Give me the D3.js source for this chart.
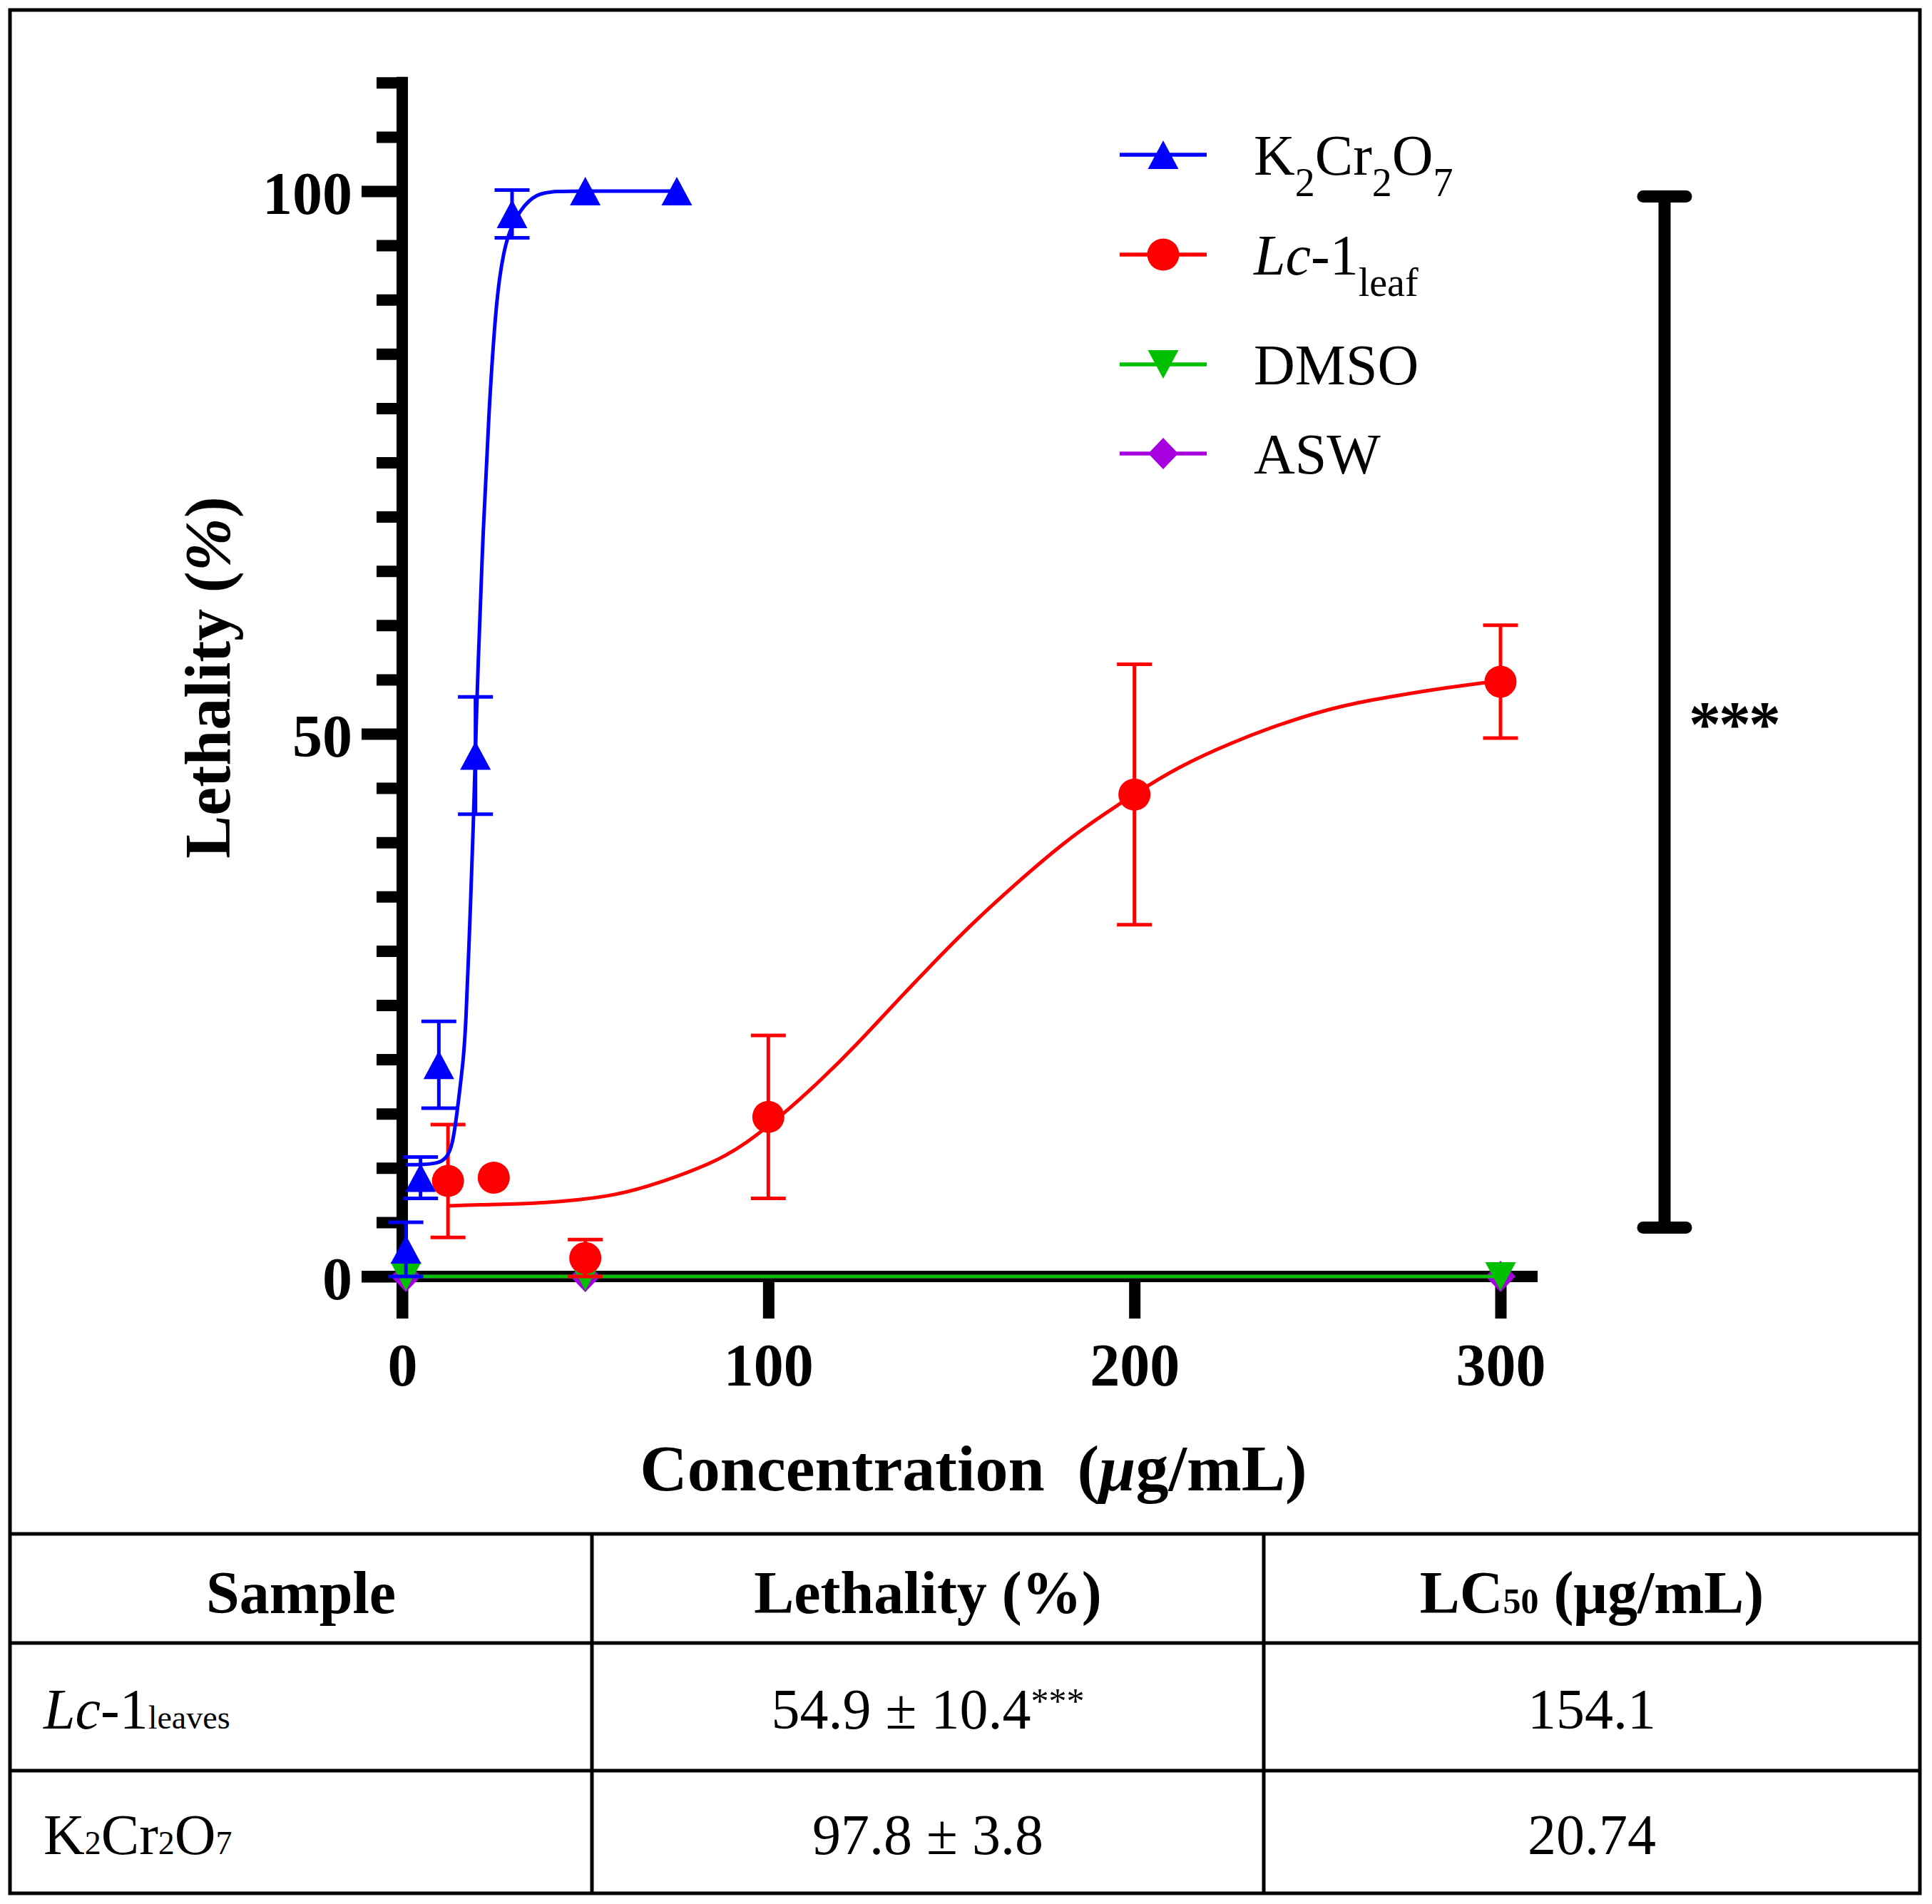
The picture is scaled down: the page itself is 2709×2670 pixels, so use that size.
<!DOCTYPE html>
<html>
<head>
<meta charset="utf-8">
<script src="https://cdn.jsdelivr.net/npm/d3@7"></script>
<style>
  body { margin: 0; background: #fff; }
  svg text { font-family: "Liberation Serif", "DejaVu Serif", serif; fill: #000; }
</style>
</head>
<body>
<svg id="chart" width="2709" height="2670"></svg>
<script>
// ---- data ----
const kX = [1, 5, 10, 20, 30, 50, 75]
const kY = [2.5, 9.1, 19.5, 48.0, 97.9, 100, 100]
const kErr = [2.5, 1.9, 4.0, 5.4, 2.2, 0, 0]

const lcX = [12.5, 25, 50, 100, 200, 300]
const lcY = [8.8, 9.1, 1.7, 14.7, 44.4, 54.8]
const lcErr = [5.2, 0, 1.7, 7.5, 12.0, 5.2]

const dmsoX = [1, 50, 300]
const dmsoY = [0, 0, 0]
const aswX = [1, 50, 300]
const aswY = [0, 0, 0]

// fitted curves
const kFitX = [1, 5, 9.8, 12.1, 13.7, 15.0, 16.6, 17.3, 18.8, 19.5, 20.2, 20.6, 22.1, 23.8, 24.9, 25.7, 26.6, 27.7, 29.1, 32.2, 36.6, 42.2, 50, 75]
const kFitY = [10.3, 10.3, 10.4, 10.9, 12.0, 15.1, 19.7, 22.3, 35.5, 42.5, 50.8, 55.2, 69.0, 80.4, 86.0, 89.4, 92.1, 94.3, 96.2, 98.3, 99.8, 100, 100, 100]
const lcFitX = [12.5, 20.2, 36.4, 49.4, 55.9, 65.0, 84.9, 93.8, 104.3, 114.7, 123.7, 134.1, 144.5, 155.0, 166.9, 181.8, 192.2, 199.8, 211.6, 226.5, 241.4, 256.3, 271.2, 286.1, 300]
const lcFitY = [6.5, 6.6, 6.7, 7.1, 7.4, 8.0, 10.4, 12.2, 15.0, 18.2, 21.2, 25.0, 28.7, 32.3, 36.0, 40.3, 42.7, 44.4, 46.9, 49.2, 51.1, 52.6, 53.5, 54.3, 54.9]

// significance bracket (y values) and label
const bracketY = [4.5, 99.5]
const bracketLabel = "***"

// axes
const xTicks = [0, 100, 200, 300]
const yMajorTicks = [0, 50, 100]
const yMinorTicks = [5, 10, 15, 20, 25, 30, 35, 40, 45, 55, 60, 65, 70, 75, 80, 85, 90, 95, 105, 110]

// legend labels (rich text parts)
const legendLabels = [
  [{ t: "K" }, { t: "2", sub: true }, { t: "Cr" }, { t: "2", sub: true }, { t: "O" }, { t: "7", sub: true }],
  [{ t: "Lc", italic: true }, { t: "-1" }, { t: "leaf", sub: true }],
  [{ t: "DMSO" }],
  [{ t: "ASW" }]
]

// table
const tableHeader = [
  [{ t: "Sample" }],
  [{ t: "Lethality (%)" }],
  [{ t: "LC" }, { t: "50", small: true }, { t: " (μg/mL)" }]
]
const tableSamples = [
  [{ t: "Lc", italic: true }, { t: "-1" }, { t: "leaves", small: true }],
  [{ t: "K" }, { t: "2", small: true }, { t: "Cr" }, { t: "2", small: true }, { t: "O" }, { t: "7", small: true }]
]
const tableLethality = [
  [{ t: "54.9 ± 10.4" }, { t: "***", sup: true }],
  [{ t: "97.8 ± 3.8" }]
]
const tableLC50 = ["154.1", "20.74"]

// ---- drawing ----
const svg = d3.select("#chart")
svg.append("rect").attr("width", 2709).attr("height", 2670).attr("fill", "#fff")

const x = d3.scaleLinear().domain([0, 300]).range([564, 2104])
const y = d3.scaleLinear().domain([0, 100]).range([1790, 268])

const BLUE = "#0000ff", RED = "#ff0000", GREEN = "#00c000", PURPLE = "#a600de"

function rich(sel, parts, opt) {
  let shift = 0
  parts.forEach(p => {
    const ts = sel.append("tspan").text(p.t)
    let target = 0
    if (p.sub) { target = opt.subShift; ts.attr("font-size", opt.subSize) }
    if (p.small) ts.attr("font-size", opt.smallSize)
    if (p.sup) { target = opt.supShift; ts.attr("font-size", opt.supSize) }
    if (target !== shift) { ts.attr("dy", target - shift); shift = target }
    if (p.italic) ts.attr("font-style", "italic")
  })
}

// frame and table grid
const frame = svg.append("g").attr("fill", "none").attr("stroke", "#000").attr("stroke-width", 5)
frame.append("rect").attr("x", 14).attr("y", 14).attr("width", 2678).attr("height", 2641)
const rowLines = [2151, 2304, 2483]
rowLines.forEach(v => frame.append("line").attr("x1", 14).attr("x2", 2692).attr("y1", v).attr("y2", v))
const colLines = [830, 1772]
colLines.forEach(v => frame.append("line").attr("x1", v).attr("x2", v).attr("y1", 2151).attr("y2", 2655))

// y axis
const yAxisG = svg.append("g").attr("transform", "translate(564,0)")
yAxisG.append("line").attr("x1", 0).attr("x2", 0).attr("y1", y(110) - 8).attr("y2", 1849)
  .attr("stroke", "#000").attr("stroke-width", 16)
yAxisG.append("g").call(d3.axisLeft(y).tickValues(yMinorTicks).tickSize(36).tickFormat(""))
  .call(g => g.select(".domain").remove())
  .call(g => g.selectAll("line").attr("stroke-width", 16))
yAxisG.append("g").call(d3.axisLeft(y).tickValues(yMajorTicks).tickSize(57).tickPadding(13))
  .call(g => g.select(".domain").remove())
  .call(g => g.selectAll("line").attr("stroke-width", 16))
  .call(g => g.selectAll("text").attr("dy", "0.37em")
    .style("font-family", '"Liberation Serif", serif').attr("font-size", 84).attr("font-weight", "bold"))

// x axis
const xAxisG = svg.append("g").attr("transform", "translate(0,1790)")
xAxisG.append("line").attr("x1", 507).attr("x2", 2156).attr("y1", 0).attr("y2", 0)
  .attr("stroke", "#000").attr("stroke-width", 16)
xAxisG.append("g").call(d3.axisBottom(x).tickValues(xTicks).tickSize(59))
  .call(g => g.select(".domain").remove())
  .call(g => g.selectAll("line").attr("stroke-width", 16))
  .call(g => g.selectAll("text").attr("y", 153).attr("dy", 0)
    .style("font-family", '"Liberation Serif", serif').attr("font-size", 84).attr("font-weight", "bold"))

// axis titles
const yTitle = svg.append("text").attr("transform", "translate(322,950) rotate(-90)")
  .attr("text-anchor", "middle").attr("font-size", 90).attr("font-weight", "bold")
rich(yTitle, [{ t: "Lethality (" }, { t: "%", italic: true }, { t: ")" }], {})
const xTitle = svg.append("text").attr("x", 1365).attr("y", 2090)
  .attr("text-anchor", "middle").attr("font-size", 92).attr("font-weight", "bold")
  .style("white-space", "pre")
rich(xTitle, [{ t: "Concentration  (" }, { t: "μ", italic: true }, { t: "g/mL)" }], {})

// markers
const markerPath = {
  up: "M0,-20L21.5,20L-21.5,20Z",
  down: "M0,20L21.5,-20L-21.5,-20Z",
  diamond: "M0,-22L21,0L0,22L-21,0Z"
}
function drawMarker(g, kind, color, px, py) {
  if (kind === "circle") g.append("circle").attr("cx", px).attr("cy", py).attr("r", 22.5).attr("fill", color)
  else g.append("path").attr("d", markerPath[kind]).attr("transform", `translate(${px},${py})`).attr("fill", color)
}

const lineGen = d3.line().x(d => x(d[0])).y(d => y(d[1]))
const fitGen = d3.line().x(d => x(d[0])).y(d => y(d[1])).curve(d3.curveBasis)

function drawSeries(xs, ys, errs, color, kind, fitX, fitY) {
  const g = svg.append("g")
  const pts = xs.map((v, i) => [v, ys[i]])
  if (fitX) {
    g.append("path").datum(fitX.map((v, i) => [v, fitY[i]])).attr("d", fitGen)
      .attr("fill", "none").attr("stroke", color).attr("stroke-width", 5)
  } else {
    g.append("path").datum(pts).attr("d", lineGen)
      .attr("fill", "none").attr("stroke", color).attr("stroke-width", 5)
  }
  if (errs) {
    pts.forEach((p, i) => {
      if (!errs[i]) return
      const cx = x(p[0]), top = y(p[1] + errs[i]), bot = y(p[1] - errs[i])
      g.append("line").attr("x1", cx).attr("x2", cx).attr("y1", top).attr("y2", bot)
        .attr("stroke", color).attr("stroke-width", 5)
      ;[top, bot].forEach(v => g.append("line").attr("x1", cx - 24.5).attr("x2", cx + 24.5)
        .attr("y1", v).attr("y2", v).attr("stroke", color).attr("stroke-width", 5))
    })
  }
  pts.forEach(p => drawMarker(g, kind, color, x(p[0]), y(p[1])))
}

drawSeries(aswX, aswY, null, PURPLE, "diamond")
drawSeries(dmsoX, dmsoY, null, GREEN, "down")
drawSeries(lcX, lcY, lcErr, RED, "circle", lcFitX, lcFitY)
drawSeries(kX, kY, kErr, BLUE, "up", kFitX, kFitY)

// significance bracket
const br = svg.append("g").attr("stroke", "#000").attr("stroke-width", 17)
br.append("line").attr("x1", 2334).attr("x2", 2334).attr("y1", y(bracketY[1])).attr("y2", y(bracketY[0]))
bracketY.forEach(v => br.append("line").attr("x1", 2304).attr("x2", 2364)
  .attr("y1", y(v)).attr("y2", y(v)).attr("stroke-linecap", "round"))
svg.append("text").attr("x", 2368).attr("y", 1046).attr("font-size", 90).attr("font-weight", "bold")
  .attr("letter-spacing", -3).text(bracketLabel)

// legend
const legendColors = [BLUE, RED, GREEN, PURPLE]
const legendKinds = ["up", "circle", "down", "diamond"]
const legendRowY = [217, 357, 511, 636]
const lg = svg.append("g")
legendRowY.forEach((ly, i) => {
  lg.append("line").attr("x1", 1570).attr("x2", 1692).attr("y1", ly).attr("y2", ly)
    .attr("stroke", legendColors[i]).attr("stroke-width", 5.5)
  drawMarker(lg, legendKinds[i], legendColors[i], 1631, ly)
  const t = lg.append("text").attr("x", 1758).attr("y", ly + 28).attr("font-size", 80)
  rich(t, legendLabels[i], { subSize: 56, subShift: 30 })
})

// table text
const colCenters = [422, 1301, 2232]
tableHeader.forEach((parts, i) => {
  const t = svg.append("text").attr("x", colCenters[i]).attr("y", 2262)
    .attr("text-anchor", "middle").attr("font-size", 84).attr("font-weight", "bold")
  rich(t, parts, { smallSize: 50 })
})
const rowBase = [2424, 2600]
rowBase.forEach((by, r) => {
  const s = svg.append("text").attr("x", 61).attr("y", by).attr("font-size", 80)
  rich(s, tableSamples[r], { smallSize: 46 })
  const l = svg.append("text").attr("x", colCenters[1]).attr("y", by).attr("text-anchor", "middle").attr("font-size", 80)
  rich(l, tableLethality[r], { supSize: 50, supShift: -22 })
  svg.append("text").attr("x", colCenters[2]).attr("y", by).attr("text-anchor", "middle").attr("font-size", 80)
    .text(tableLC50[r])
})
</script>
</body>
</html>
